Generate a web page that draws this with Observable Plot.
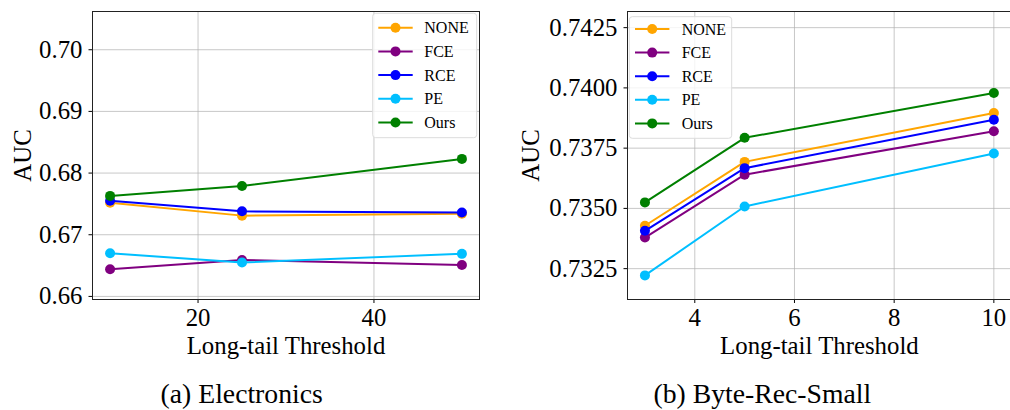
<!DOCTYPE html>
<html><head><meta charset="utf-8">
<script src="https://cdn.jsdelivr.net/npm/d3@7"></script>
<script src="https://cdn.jsdelivr.net/npm/@observablehq/plot@0.6"></script>
<style>
html,body{margin:0;padding:0;background:#fff;overflow:hidden}
#wrap{position:relative;width:1010px;height:410px;overflow:hidden;font-family:"Liberation Serif","Times New Roman",serif}
#wrap > *{position:absolute;top:0}
</style></head><body><div id="wrap"></div>
<script>
const methods = ["NONE", "FCE", "RCE", "PE", "Ours"];
const colors = ["#FFA500", "#800080", "#0000FF", "#00BFFF", "#008000"];

// (a) Electronics
const elecThresholds = [10, 25, 50];
const elecNONE = [0.6752, 0.6731, 0.6734];
const elecFCE  = [0.6644, 0.6659, 0.6651];
const elecRCE  = [0.6755, 0.6738, 0.6736];
const elecPE   = [0.6670, 0.6655, 0.6669];
const elecOurs = [0.6763, 0.6779, 0.6823];
const elecXTicks = [20, 40];
const elecYTicks = [0.66, 0.67, 0.68, 0.69, 0.70];

// (b) Byte-Rec-Small
const byteThresholds = [3, 5, 10];
const byteNONE = [0.73428, 0.73693, 0.73896];
const byteFCE  = [0.73379, 0.73640, 0.73820];
const byteRCE  = [0.73407, 0.73667, 0.73868];
const bytePE   = [0.73222, 0.73508, 0.73728];
const byteOurs = [0.73525, 0.73793, 0.73979];
const byteXTicks = [4, 6, 8, 10];
const byteYTicks = [0.7325, 0.7350, 0.7375, 0.7400, 0.7425];

const captions = ["(a) Electronics", "(b) Byte-Rec-Small"];
const xLabel = "Long-tail Threshold";
const yLabel = "AUC";

function tidy(xs, series) {
  const rows = [];
  methods.forEach((m, i) => xs.forEach((x, j) => rows.push({method: m, x, y: series[i][j]})));
  return rows;
}
const elecRows = tidy(elecThresholds, [elecNONE, elecFCE, elecRCE, elecPE, elecOurs]);
const byteRows = tidy(byteThresholds, [byteNONE, byteFCE, byteRCE, bytePE, byteOurs]);

const FONT = '"Liberation Serif","Times New Roman",serif';

function panel({rows, xDomain, yDomain, xTicks, yTicks, yFormat, width, marginLeft, marginRight, yLabelOffset}) {
  return Plot.plot({
    width, height: 410,
    marginLeft, marginRight, marginTop: 11, marginBottom: 111,
    style: {fontFamily: FONT, background: "transparent", overflow: "visible"},
    x: {domain: xDomain},
    y: {domain: yDomain},
    color: {domain: methods, range: colors},
    marks: [
      Plot.gridX(xTicks, {stroke: "#b0b0b0", strokeOpacity: 0.7, strokeWidth: 1}),
      Plot.gridY(yTicks, {stroke: "#b0b0b0", strokeOpacity: 0.7, strokeWidth: 1}),
      Plot.axisX({ticks: xTicks, tickSize: 4, tickPadding: 5, fontSize: 24.8,
        label: xLabel, labelAnchor: "center", labelArrow: "none", labelOffset: 54}),
      Plot.axisY({ticks: yTicks, tickFormat: d3.format(yFormat), tickSize: 3.5, tickPadding: 6.5, fontSize: 24.8,
        label: yLabel, labelAnchor: "center", labelArrow: "none", labelOffset: yLabelOffset}),
      ...methods.flatMap((m, i) => {
        const data = rows.filter(r => r.method === m);
        return [
          Plot.line(data, {x: "x", y: "y", stroke: colors[i], strokeWidth: 2}),
          Plot.dot(data, {x: "x", y: "y", fill: colors[i], r: 5})
        ];
      }),
      Plot.frame({stroke: "#222", strokeWidth: 1})
    ]
  });
}

const wrap = document.getElementById("wrap");

const left = panel({rows: elecRows, xDomain: [8, 52], yDomain: [0.6595, 0.7062],
  xTicks: elecXTicks, yTicks: elecYTicks, yFormat: ".2f",
  width: 500, marginLeft: 92, marginRight: 21, yLabelOffset: 79});
left.style.left = "0px";
wrap.appendChild(left);

const right = panel({rows: byteRows, xDomain: [2.65, 10.35], yDomain: [0.73122, 0.74317],
  xTicks: byteXTicks, yTicks: byteYTicks, yFormat: ".4f",
  width: 512, marginLeft: 127, marginRight: 1.2, yLabelOffset: 106});
right.style.left = "500px";
wrap.appendChild(right);

// Legends and captions overlay
const overlay = d3.create("svg").attr("width", 1010).attr("height", 410)
  .style("left", "0px").style("font-family", FONT);
function legend(x0, y0, w, h, firstRow, step, lineOff, textOff) {
  const g = overlay.append("g").attr("transform", `translate(${x0},${y0})`);
  g.append("rect").attr("width", w).attr("height", h).attr("rx", 3)
    .attr("fill", "#fff").attr("fill-opacity", 0.8).attr("stroke", "#dcdcdc").attr("stroke-width", 1);
  methods.forEach((m, i) => {
    const y = firstRow + i * step;
    g.append("line").attr("x1", lineOff).attr("x2", lineOff + 34.4).attr("y1", y).attr("y2", y)
      .attr("stroke", colors[i]).attr("stroke-width", 2);
    g.append("circle").attr("cx", lineOff + 17.2).attr("cy", y).attr("r", 5).attr("fill", colors[i]);
    g.append("text").attr("x", textOff).attr("y", y).attr("dy", "0.35em")
      .attr("font-size", 16).attr("fill", "#000").text(m);
  });
}
legend(372.7, 13.3, 104, 124.4, 14.4, 23.7, 5.6, 51.6);
legend(629.3, 16.7, 102.4, 121.6, 12.3, 23.6, 5.7, 52.4);

overlay.append("text").attr("x", 241.7).attr("y", 402.7).attr("text-anchor", "middle")
  .attr("font-size", 27.7).text(captions[0]);
overlay.append("text").attr("x", 762.3).attr("y", 402.7).attr("text-anchor", "middle")
  .attr("font-size", 27.7).text(captions[1]);
wrap.appendChild(overlay.node());
</script></body></html>
